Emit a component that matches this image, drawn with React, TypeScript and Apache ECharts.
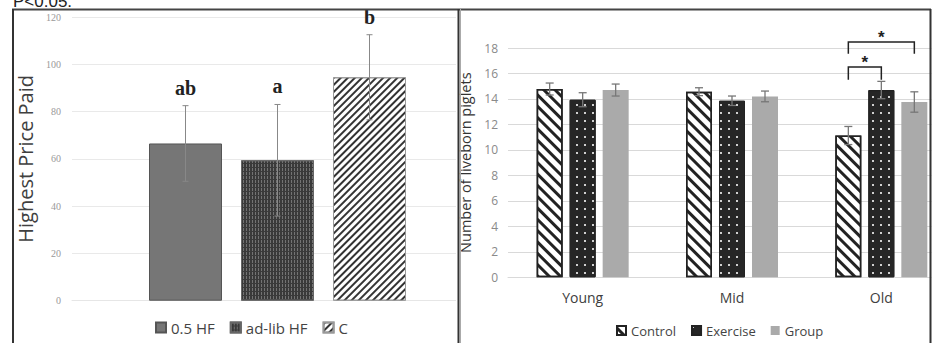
import React, { useEffect, useRef } from 'react';
import * as echarts from 'echarts';

// ---------- Left panel data ----------
const leftSeriesNames = ['0.5 HF', 'ad-lib HF', 'C'];
const leftMeans = [66.5, 59.4, 94.5];
const leftErrors = [16, 23.6, 18];
const leftLetters = ['ab', 'a', 'b'];
const leftAxisMin = 0;
const leftAxisMax = 120;
const leftAxisInterval = 20;
const leftYTitle = 'Highest Price Paid';
const topNote = 'P<0.05.';

// ---------- Right panel data ----------
const rightCategories = ['Young', 'Mid', 'Old'];
const rightSeriesNames = ['Control', 'Exercise', 'Group'];
const controlMeans = [14.78, 14.57, 11.13];
const controlErrors = [0.47, 0.31, 0.71];
const exerciseMeans = [13.94, 13.86, 14.7];
const exerciseErrors = [0.55, 0.37, 0.68];
const groupMeans = [14.7, 14.2, 13.76];
const groupErrors = [0.47, 0.42, 0.8];
const rightAxisMin = 0;
const rightAxisMax = 18;
const rightAxisInterval = 2;
const rightYTitle = 'Number of liveborn piglets';
// [categoryIndex, fromSeries, toSeries, bracketTop, bracketDrop]
const brackets = [
  [2, 0, 1, 16.5, 15.5],
  [2, 0, 2, 18.47, 17.55],
];
const bracketLabel = '*';

// ---------- styles ----------
const LBW = 73;
const LGAP = 19;
const RBW = 26;
const RGAP = 7;
const RX = 456; // left edge of right panel canvas

const leftStyles = [
  { color: '#767676', borderColor: '#555', borderWidth: 1 },
  {
    color: '#3a3a3a', borderColor: '#666', borderWidth: 1,
    decal: { symbol: 'rect', color: 'rgba(125,125,125,0.85)', dashArrayX: [1, 2], dashArrayY: [3, 1], symbolSize: 1 },
  },
  {
    color: '#ffffff', borderColor: '#999', borderWidth: 1,
    decal: { symbol: 'rect', color: '#333', dashArrayX: [1, 0], dashArrayY: [2, 2.2], rotation: -Math.PI / 4, symbolSize: 1 },
  },
];

const rightStyles = [
  {
    color: '#ffffff', borderColor: '#222', borderWidth: 1.5,
    decal: { symbol: 'rect', color: '#222', dashArrayX: [1, 0], dashArrayY: [2.5, 4.5], rotation: Math.PI / 4, symbolSize: 1 },
  },
  {
    color: '#262626', borderColor: '#222', borderWidth: 1,
    decal: { symbol: 'rect', color: '#d0d0d0', dashArrayX: [1.2, 5.8], dashArrayY: [1.2, 5.8], symbolSize: 1 },
  },
  { color: '#aaaaaa', borderWidth: 0 },
];

function errorRenderer(n: number, step: number, cap: number, stroke: string, lw: number, letters?: string[]) {
  return (params: any, api: any) => {
    const cat = api.value(0);
    const s = api.value(3);
    const off = (s - (n - 1) / 2) * step;
    const lo = api.coord([cat, api.value(1)]);
    const hi = api.coord([cat, api.value(2)]);
    const x = lo[0] + off;
    const style = { stroke, lineWidth: lw };
    const children: any[] = [
      { type: 'line', shape: { x1: x, y1: lo[1], x2: x, y2: hi[1] }, style },
      { type: 'line', shape: { x1: x - cap, y1: hi[1], x2: x + cap, y2: hi[1] }, style },
      { type: 'line', shape: { x1: x - cap, y1: lo[1], x2: x + cap, y2: lo[1] }, style },
    ];
    if (letters) {
      children.push({
        type: 'text', x, y: hi[1] - 8,
        style: {
          text: letters[s], fill: '#222', font: 'bold 20px "Liberation Serif"',
          textAlign: 'center', textVerticalAlign: 'bottom',
        },
      });
    }
    return { type: 'group', children };
  };
}

function buildLeft(): any {
  const errData = leftMeans.map((m, i) => [0, m - leftErrors[i], m + leftErrors[i], i]);
  return {
    animation: false,
    textStyle: { fontFamily: 'Open Sans' },
    grid: { left: 72, top: 17, width: 411, height: 283.7, outerBoundsMode: 'none', containLabel: false },
    legend: {
      data: leftSeriesNames, left: 150, top: 315, icon: 'rect', itemWidth: 10, itemHeight: 10, itemGap: 15,
      textStyle: { fontSize: 15, color: '#444', fontFamily: 'Open Sans' },
    },
    xAxis: {
      type: 'category', data: [''],
      axisLine: { lineStyle: { color: '#e6e6e6' } }, axisTick: { show: false }, axisLabel: { show: false },
    },
    yAxis: {
      type: 'value', min: leftAxisMin, max: leftAxisMax, interval: leftAxisInterval,
      name: leftYTitle, nameLocation: 'middle', nameGap: 35,
      nameTextStyle: { fontSize: 20, color: '#404040', fontFamily: 'Open Sans' },
      axisLine: { show: false }, axisTick: { show: false },
      axisLabel: { fontFamily: 'Liberation Serif', fontSize: 10, color: '#999', margin: 11 },
      splitLine: { lineStyle: { color: '#e9e9e9' } },
    },
    graphic: [
      { type: 'text', x: 13, y: 10, z: 100, style: { text: topNote, font: '17px "Liberation Sans"', fill: '#222', textVerticalAlign: 'bottom' } },
      { type: 'line', z: 100, shape: { x1: 12, y1: 9.5, x2: 460, y2: 9.5 }, style: { stroke: '#444', lineWidth: 2 } },
      { type: 'line', z: 100, shape: { x1: 13, y1: 9, x2: 13, y2: 343 }, style: { stroke: '#333', lineWidth: 2 } },
    ],
    series: [
      ...leftSeriesNames.map((name, i) => ({
        type: 'bar', name, data: [leftMeans[i]], barWidth: LBW, barGap: `${(LGAP / LBW) * 100}%`,
        itemStyle: leftStyles[i],
      })),
      {
        type: 'custom', data: errData, encode: { x: 0, y: [1, 2] }, z: 10,
        renderItem: errorRenderer(3, LBW + LGAP, 3, '#888', 1, leftLetters),
      },
    ],
  };
}

function buildRight(): any {
  const means = [controlMeans, exerciseMeans, groupMeans];
  const errs = [controlErrors, exerciseErrors, groupErrors];
  const errData: number[][] = [];
  means.forEach((arr, s) => arr.forEach((m, c) => errData.push([c, m - errs[s][c], m + errs[s][c], s])));
  const step = RBW + RGAP;
  return {
    animation: false,
    textStyle: { fontFamily: 'Open Sans' },
    grid: { left: 508 - RX, top: 48, width: 448, height: 229.3, outerBoundsMode: 'none', containLabel: false },
    legend: {
      data: rightSeriesNames, left: 611 - RX, top: 319, icon: 'rect', itemWidth: 9, itemHeight: 9, itemGap: 15,
      textStyle: { fontSize: 13, color: '#444', fontFamily: 'Open Sans' },
    },
    xAxis: {
      type: 'category', data: rightCategories,
      axisLine: { lineStyle: { color: '#d9d9d9' } }, axisTick: { show: false },
      axisLabel: { fontSize: 14, color: '#404040', margin: 13, fontFamily: 'Open Sans' },
    },
    yAxis: {
      type: 'value', min: rightAxisMin, max: rightAxisMax, interval: rightAxisInterval,
      name: rightYTitle, nameLocation: 'middle', nameGap: 30,
      nameTextStyle: { fontSize: 14.5, color: '#333', fontFamily: 'Open Sans' },
      axisLine: { show: false }, axisTick: { show: false },
      axisLabel: { fontSize: 12, color: '#8a8a8a', margin: 10, fontFamily: 'Open Sans' },
      splitLine: { lineStyle: { color: '#d9d9d9' } },
    },
    graphic: [
      { type: 'rect', z: 99, shape: { x: 931.5 - RX, y: 0, width: 40, height: 343 }, style: { fill: '#fff' } },
      { type: 'line', z: 100, shape: { x1: 0, y1: 9.5, x2: 931 - RX, y2: 9.5 }, style: { stroke: '#444', lineWidth: 2 } },
      { type: 'line', z: 100, shape: { x1: 458.5 - RX, y1: 9, x2: 458.5 - RX, y2: 343 }, style: { stroke: '#333', lineWidth: 2 } },
      { type: 'line', z: 100, shape: { x1: 460.5 - RX, y1: 9, x2: 460.5 - RX, y2: 343 }, style: { stroke: '#aaa', lineWidth: 1 } },
      { type: 'line', z: 100, shape: { x1: 930.5 - RX, y1: 9, x2: 930.5 - RX, y2: 343 }, style: { stroke: '#333', lineWidth: 2 } },
    ],
    series: [
      ...rightSeriesNames.map((name, i) => ({
        type: 'bar', name, data: means[i], barWidth: RBW, barGap: `${(RGAP / RBW) * 100}%`,
        itemStyle: rightStyles[i],
      })),
      {
        type: 'custom', data: errData, encode: { x: 0, y: [1, 2] }, z: 10,
        renderItem: errorRenderer(3, step, 4, '#777', 1.3),
      },
      {
        type: 'custom', data: brackets, encode: { x: 0, y: [3, 4] }, z: 11,
        renderItem: (params: any, api: any) => {
          const cat = api.value(0);
          const top = api.coord([cat, api.value(3)]);
          const drop = api.coord([cat, api.value(4)]);
          const x1 = top[0] + (api.value(1) - 1) * step;
          const x2 = top[0] + (api.value(2) - 1) * step;
          return {
            type: 'group',
            children: [
              {
                type: 'polyline',
                shape: { points: [[x1, drop[1]], [x1, top[1]], [x2, top[1]], [x2, drop[1]]] },
                style: { stroke: '#222', lineWidth: 1.5, fill: 'none' },
              },
              {
                type: 'text', x: (x1 + x2) / 2, y: top[1] + 4,
                style: { text: bracketLabel, fill: '#222', font: 'bold 17px "Liberation Sans"', textAlign: 'center', textVerticalAlign: 'bottom' },
              },
            ],
          };
        },
      },
    ],
  };
}

export default function App() {
  const leftRef = useRef<HTMLDivElement>(null);
  const rightRef = useRef<HTMLDivElement>(null);
  useEffect(() => {
    const l = echarts.init(leftRef.current!, null, { renderer: 'svg' });
    const r = echarts.init(rightRef.current!, null, { renderer: 'svg' });
    l.setOption(buildLeft());
    r.setOption(buildRight());
    return () => {
      l.dispose();
      r.dispose();
    };
  }, []);
  return (
    <div style={{ position: 'fixed', left: 0, top: 0, width: 936, height: 343, background: '#fff', overflow: 'hidden' }}>
      <div style={{ position: 'absolute', left: 0, top: 0, width: RX, height: 343, overflow: 'hidden' }}>
        <div ref={leftRef} style={{ position: 'absolute', left: 0, top: 0, width: 500, height: 343 }} />
      </div>
      <div style={{ position: 'absolute', left: RX, top: 0, width: 936 - RX, height: 343, overflow: 'hidden' }}>
        <div ref={rightRef} style={{ position: 'absolute', left: 0, top: 0, width: 500, height: 343 }} />
      </div>
    </div>
  );
}
